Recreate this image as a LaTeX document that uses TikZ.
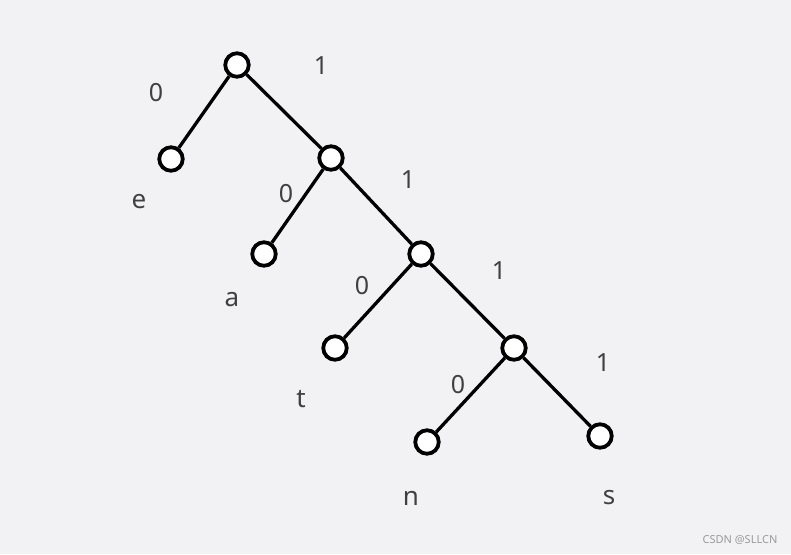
\documentclass[tikz,border=0pt]{standalone}
\usepackage{fontspec}
\setmainfont{Noto Sans}
\usepackage{tikz}
\definecolor{bgcol}{HTML}{F2F2F5}
\definecolor{labcol}{HTML}{404040}
\definecolor{markcol}{HTML}{9A9A9A}

\begin{document}
\begin{tikzpicture}[x=1pt,y=-1pt,-,line width=3.3pt,
		main node/.style={circle,draw,fill=white,line width=3.8pt,inner sep=0pt,minimum size=23.5pt},
		bit/.style={text=labcol,font=\fontsize{25}{30}\selectfont},
		letter/.style={text=labcol,font=\fontsize{26}{31}\selectfont}]
		\fill[bgcol] (0,0) rectangle (791,554);
		\useasboundingbox (0,0) rectangle (791,554);
		% inner nodes
		\node[main node] (root) at (237,65) {};
		\node[main node] (n1) at (331,158) {};
		\node[main node] (n2) at (421,254) {};
		\node[main node] (n3) at (514,348) {};
		% leaves
		\node[main node] (e) at (171,159) {};
		\node[main node] (a) at (264,254) {};
		\node[main node] (t) at (335,348) {};
		\node[main node] (n) at (427,442) {};
		\node[main node] (s) at (600,436) {};
		\path
		(root) edge (e) edge (n1)
		(n1) edge (a) edge (n2)
		(n2) edge (t) edge (n3)
		(n3) edge (n) edge (s);
		% bits
		\node[bit] (b1) at (156,93) {0};
		\node[bit] (b2) at (321,66) {1};
		\node[bit] (b3) at (286,194) {0};
		\node[bit] (b4) at (408,180) {1};
		\node[bit] (b5) at (362,286) {0};
		\node[bit] (b6) at (499,271) {1};
		\node[bit] (b7) at (458,385) {0};
		\node[bit] (b8) at (603,363) {1};
		% symbols
		\node[letter] (le) at (139,202) {e};
		\node[letter] (la) at (232,300) {a};
		\node[letter] (lt) at (301,399) {t};
		\node[letter] (ln) at (411,498) {n};
		\node[letter] (ls) at (609,498) {s};
		\node[text=markcol,font=\fontsize{11}{13}\selectfont] (mark) at (740,540) {CSDN @SLLCN};
		\end{tikzpicture}
\end{document}
